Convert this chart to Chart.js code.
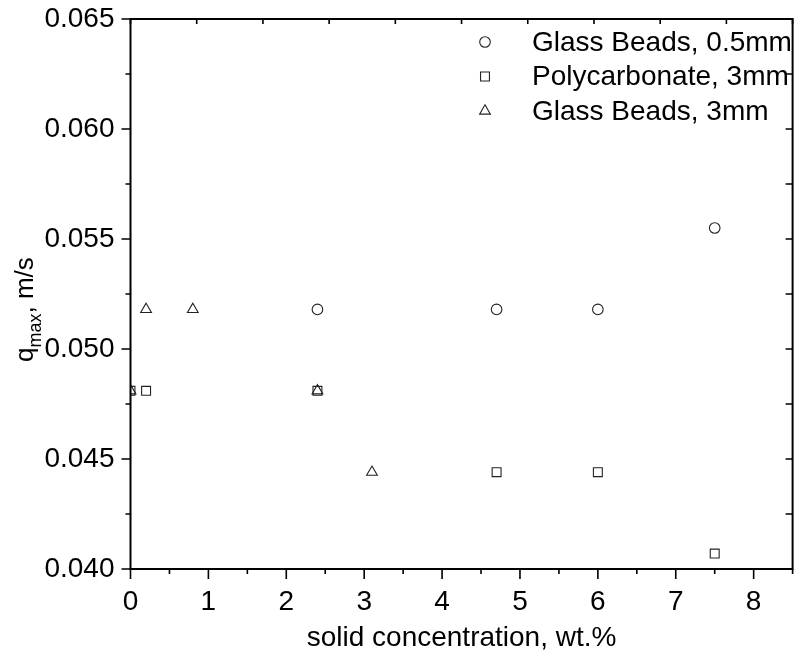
<!DOCTYPE html>
<html>
<head>
<meta charset="utf-8">
<script src="https://cdn.jsdelivr.net/npm/chart.js@4/dist/chart.umd.min.js"></script>
<style>
  html, body { margin: 0; padding: 0; background: #fff; }
</style>
</head>
<body>
<canvas id="qmax" width="800" height="659"></canvas>
<script>
// solid concentration (wt.%) vs q_max (m/s)
const concGB05 = [2.4, 4.7, 6.0, 7.5];
const qmaxGB05 = [0.0518, 0.0518, 0.0518, 0.0555];
const concPC3 = [0, 0.2, 2.4, 4.7, 6.0, 7.5];
const qmaxPC3 = [0.0481, 0.0481, 0.0481, 0.0444, 0.0444, 0.0407];
const concGB3 = [0, 0.2, 0.8, 2.4, 3.1];
const qmaxGB3 = [0.0481, 0.0518, 0.0518, 0.0481, 0.0444];

const seriesNames = ["Glass Beads, 0.5mm", "Polycarbonate, 3mm", "Glass Beads, 3mm"];
const xLimits = [0, 8.5];
const yLimits = [0.040, 0.065];

const FONT = "'Liberation Sans', Arial, sans-serif";
const INK = "#222";

function pts(xs, ys) {
  return xs.map((x, i) => ({ x: x, y: ys[i] }));
}

function marker(label, data, style, r) {
  return {
    label: label,
    data: data,
    pointStyle: style,
    pointRadius: r,
    pointHoverRadius: r,
    pointBorderWidth: 1.1,
    pointBorderColor: INK,
    pointBackgroundColor: "rgba(0,0,0,0)",
    showLine: false,
    clip: 0
  };
}

// legend symbol, same shapes the scatter points use
function legendSymbol(ctx, style, r, x, y) {
  if (Chart.helpers && Chart.helpers.drawPoint) {
    Chart.helpers.drawPoint(ctx, { pointStyle: style, radius: r, rotation: 0, borderWidth: 1.1 }, x, y);
    return;
  }
  ctx.beginPath();
  if (style === "circle") {
    ctx.arc(x, y, r, 0, Math.PI * 2);
  } else if (style === "rect") {
    const s = r * Math.SQRT1_2;
    ctx.rect(x - s, y - s, 2 * s, 2 * s);
  } else {
    const h = r * 1.5, half = r * Math.sqrt(3) / 2;
    ctx.moveTo(x, y - r);
    ctx.lineTo(x + half, y + h - r);
    ctx.lineTo(x - half, y + h - r);
    ctx.closePath();
  }
  ctx.stroke();
}

// frame + ticks on all four sides
const frame = {
  id: "frame",
  afterDatasetsDraw(chart) {
    const ctx = chart.ctx;
    const a = chart.chartArea;
    const x = chart.scales.x, y = chart.scales.y, x2 = chart.scales.x2;
    ctx.save();
    ctx.strokeStyle = "#000";
    ctx.lineWidth = 2;
    ctx.strokeRect(a.left, a.top, a.right - a.left, a.bottom - a.top);
    ctx.lineWidth = 1.6;
    ctx.beginPath();
    const xs = x.ticks.map(t => t.value);
    xs.forEach(v => {
      const p = x.getPixelForValue(v);
      ctx.moveTo(p, a.bottom); ctx.lineTo(p, a.bottom + 10);
      const m = v + 0.5;
      if (m <= x.max + 1e-9) {
        const q = x.getPixelForValue(m);
        ctx.moveTo(q, a.bottom); ctx.lineTo(q, a.bottom + 5);
      }
    });
    const ys = y.ticks.map(t => t.value);
    ys.forEach((v, i) => {
      const p = y.getPixelForValue(v);
      ctx.moveTo(a.left, p); ctx.lineTo(a.left - 9, p);
      ctx.moveTo(a.right, p); ctx.lineTo(a.right - 7, p);
      if (i < ys.length - 1) {
        const q = y.getPixelForValue((v + ys[i + 1]) / 2);
        ctx.moveTo(a.left, q); ctx.lineTo(a.left - 5, q);
        ctx.moveTo(a.right, q); ctx.lineTo(a.right - 7, q);
      }
    });
    if (x2) {
      x2.ticks.forEach(t => {
        const p = x2.getPixelForValue(t.value);
        ctx.moveTo(p, a.top); ctx.lineTo(p, a.top + 5);
      });
    }
    ctx.stroke();
    ctx.restore();
  },
  afterDraw(chart) {
    const ctx = chart.ctx;
    ctx.save();
    // y title with subscript
    ctx.fillStyle = "#000";
    ctx.textBaseline = "alphabetic";
    ctx.translate(33, 362);
    ctx.rotate(-Math.PI / 2);
    ctx.font = "26px " + FONT;
    ctx.fillText("q", 0, 0);
    let w = ctx.measureText("q").width;
    ctx.font = "18px " + FONT;
    ctx.fillText("max", w, 8);
    w += ctx.measureText("max").width;
    ctx.font = "26px " + FONT;
    ctx.fillText(", m/s", w, 0);
    ctx.restore();

    // legend
    ctx.save();
    ctx.font = "28px " + FONT;
    ctx.textBaseline = "middle";
    chart.data.datasets.forEach((ds, i) => {
      const yy = 42 + i * 34.5;
      ctx.strokeStyle = INK;
      ctx.fillStyle = "rgba(0,0,0,0)";
      ctx.lineWidth = 1.1;
      legendSymbol(ctx, ds.pointStyle, ds.pointRadius, 485, yy);
      ctx.fillStyle = "#000";
      ctx.fillText(ds.label, 532, yy + 1);
    });
    ctx.restore();
  }
};

new Chart(document.getElementById("qmax"), {
  type: "scatter",
  data: {
    datasets: [
      marker(seriesNames[0], pts(concGB05, qmaxGB05), "circle", 5.3),
      marker(seriesNames[1], pts(concPC3, qmaxPC3), "rect", 6.3),
      marker(seriesNames[2], pts(concGB3, qmaxGB3), "triangle", 6.2)
    ]
  },
  plugins: [frame],
  options: {
    responsive: false,
    animation: false,
    layout: { padding: { left: 0, right: 6, top: 19, bottom: 0 } },
    plugins: { legend: { display: false }, tooltip: { enabled: false } },
    scales: {
      x: {
        type: "linear",
        position: "bottom",
        min: xLimits[0],
        max: xLimits[1],
        grid: { display: false, drawTicks: false },
        border: { display: false },
        ticks: {
          stepSize: 1,
          includeBounds: false,
          padding: 16,
          color: "#000",
          font: { size: 28, family: FONT }
        },
        title: {
          display: true,
          text: "solid concentration, wt.%",
          color: "#000",
          font: { size: 28, family: FONT },
          padding: { top: 0, bottom: 4 }
        },
        afterFit(s) {
          s.height = 90;
          s.paddingLeft = 0; s.paddingRight = 0;
        }
      },
      x2: {
        type: "linear",
        position: "top",
        min: 0,
        max: 10,
        grid: { display: false, drawTicks: false },
        border: { display: false },
        ticks: { display: false, stepSize: 1 },
        afterFit(s) {
          s.height = 0;
          s.paddingLeft = 0; s.paddingRight = 0;
        }
      },
      y: {
        type: "linear",
        min: yLimits[0],
        max: yLimits[1],
        grid: { display: false, drawTicks: false },
        border: { display: false },
        ticks: {
          stepSize: 0.005,
          padding: 16,
          color: "#000",
          font: { size: 28, family: FONT },
          callback: v => v.toFixed(3)
        },
        afterFit(s) {
          s.width = 130.5;
          s.paddingTop = 0; s.paddingBottom = 0;
        }
      }
    }
  }
});
</script>
</body>
</html>
